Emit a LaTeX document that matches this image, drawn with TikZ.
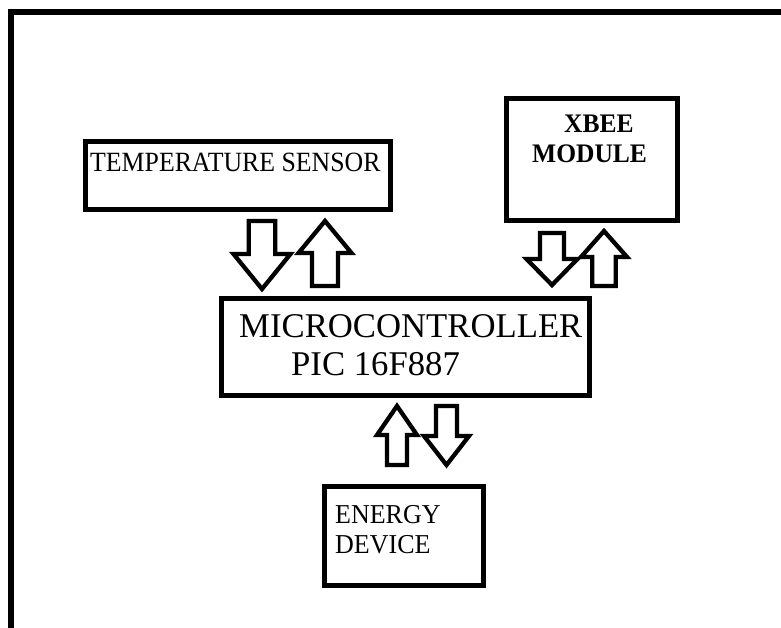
\documentclass[tikz,border=0pt]{standalone}
\usepackage{fontspec}
\setmainfont{Liberation Serif}
\tikzset{
  box/.style={draw, line width=4.6pt, inner sep=0pt, anchor=north west},
  lbl/.style={inner sep=0pt, anchor=base west},
  blk/.style={draw, line width=4.3pt, fill=white, line join=miter},
}
% \barrow{xc}{ytail}{ybase}{ytip}{shafthalf}{headhalf}
\newcommand{\barrow}[6]{%
  \draw[blk] ({#1-#5},#2) -- ({#1+#5},#2) -- ({#1+#5},#3) -- ({#1+#6},#3)
    -- (#1,#4) -- ({#1-#6},#3) -- ({#1-#5},#3) -- cycle;}
\begin{document}
\begin{tikzpicture}[x=1pt,y=-1pt]
\useasboundingbox (0,0) rectangle (781,628);
% frame
\draw[line width=6pt] (10.5,640) -- (10.5,12) -- (800,12);
% boxes
\node[box, minimum width=305pt, minimum height=68pt] (temp) at (83,139.5) {};
\node[box, minimum width=171pt, minimum height=122pt] (xbee) at (504,96) {};
\node[box, minimum width=368pt, minimum height=97pt] (micro) at (219,296) {};
\node[box, minimum width=159pt, minimum height=99pt] (energy) at (322,484) {};
% texts
\node[lbl, yscale=1.08, font=\fontsize{25.8}{30}\selectfont] (ttemp) at (90,172) {TEMPERATURE SENSOR};
\node[lbl, yscale=1.05, font=\fontsize{25.5}{30}\selectfont\bfseries] (txb1) at (564,132.5) {XBEE};
\node[lbl, yscale=1.05, font=\fontsize{25.5}{30}\selectfont\bfseries] (txb2) at (532,162.5) {MODULE};
\node[lbl, font=\fontsize{34.7}{40}\selectfont] (tmc1) at (239,337) {MICROCONTROLLER};
\node[lbl, font=\fontsize{34.7}{40}\selectfont] (tmc2) at (291,375.5) {PIC 16F887};
\node[lbl, yscale=1.05, font=\fontsize{26}{30}\selectfont] (ten1) at (335,523) {ENERGY};
\node[lbl, yscale=1.05, font=\fontsize{26}{30}\selectfont] (ten2) at (335,553) {DEVICE};
% block arrows
\barrow{262}{221}{254}{289}{13.3}{28.5}
\barrow{325}{286}{253}{221}{13}{26.5}
\barrow{552}{233}{259}{285}{12}{25.5}
\barrow{604}{286}{257}{231}{11.8}{23}
\barrow{397}{465}{435}{406}{10}{20}
\barrow{446.5}{406}{436}{465}{10.5}{22.5}
\end{tikzpicture}
\end{document}
